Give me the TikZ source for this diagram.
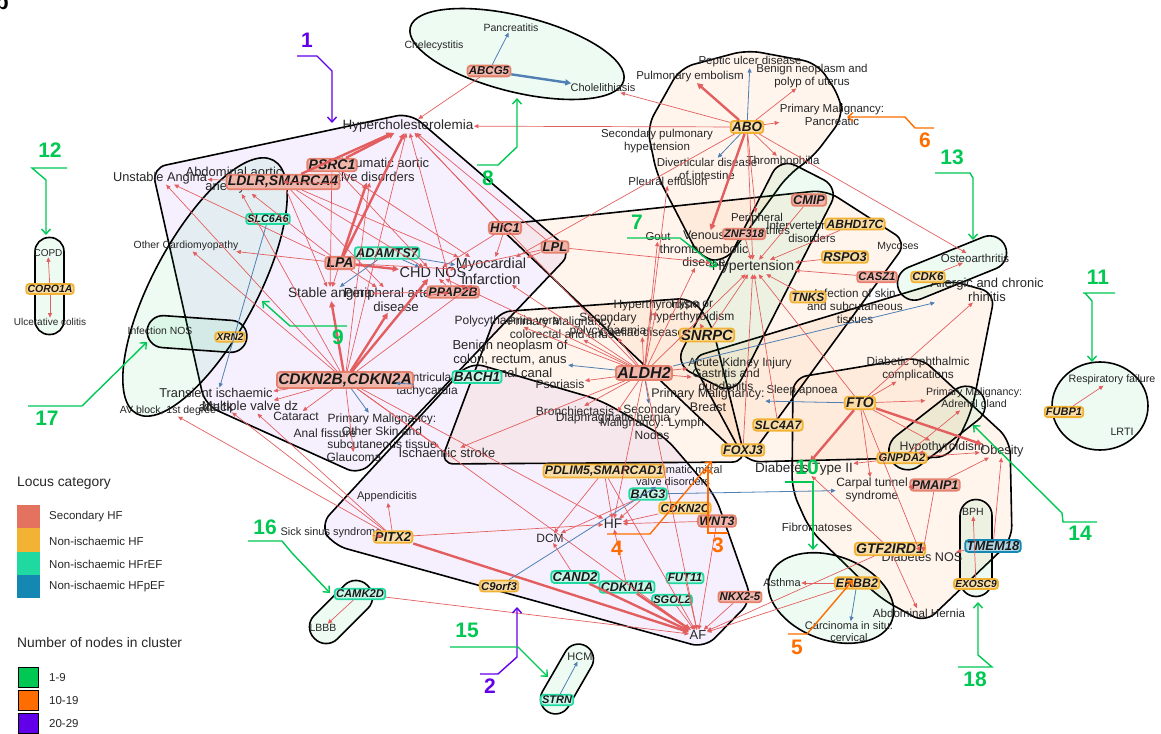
\documentclass[tikz,border=0pt]{standalone}
\usepackage{fontspec}
\setmainfont{Liberation Sans}
\usetikzlibrary{arrows.meta,shapes.geometric}
\definecolor{cg}{HTML}{00C853}
\definecolor{co}{HTML}{FF6D00}
\definecolor{cp}{HTML}{6200EA}
\definecolor{sec}{HTML}{E3735E}
\definecolor{nih}{HTML}{F2B233}
\definecolor{hfr}{HTML}{20D9A0}
\definecolor{hfp}{HTML}{1587B3}
\definecolor{ered}{HTML}{E35F5F}
\definecolor{eblue}{HTML}{4F7FB3}
\newcommand\dfont[1]{\fontsize{#1}{#1}\selectfont\setlength{\baselineskip}{1.1em}}
\newcommand\gfont[1]{\fontsize{#1}{#1}\selectfont\bfseries\itshape}
\tikzset{
 dis/.style={font=\dfont{#1}, inner sep=0.5pt, align=center, text=black!85},
 gbox/.style={draw, line width=1.8pt, rounded corners=3pt, inner sep=1.3pt, font=\gfont{#1}, text=black!90},
 gS/.style={gbox=#1, draw=sec!90, fill=sec!52},
 gN/.style={gbox=#1, draw=nih, fill=nih!45},
 gR/.style={gbox=#1, draw=hfr, fill=hfr!25},
 gP/.style={gbox=#1, draw=hfp, fill=hfp!35},
 re/.style={draw=ered, line width=0.7pt, -{Triangle[length=4.5pt,width=4pt]}},
 reT/.style={draw=ered, line width=2.4pt, -{Triangle[length=6pt,width=6pt]}},
 be/.style={draw=eblue, line width=0.8pt, -{Triangle[length=4.5pt,width=4pt]}},
 beT/.style={draw=eblue, line width=2.4pt, -{Triangle[length=6pt,width=6pt]}},
 clu/.style={draw=black, line width=1.6pt, rounded corners=14pt},
 fP/.style={fill=cp, fill opacity=0.06},
 fO/.style={fill=co, fill opacity=0.07},
 fG/.style={fill=cg, fill opacity=0.07},
 num/.style={font=\fontsize{21}{21}\selectfont\bfseries, inner sep=0pt},
 lab/.style={line width=1.4pt, -{Straight Barb[length=5pt,width=9pt]}},
 lgt/.style={anchor=west, font=\fontsize{#1}{#1}\selectfont, text=black!85, inner sep=0pt},
}
\begin{document}
\begin{tikzpicture}[x=1pt,y=-1pt]
\useasboundingbox (0,0) rectangle (1161,733);
\node[font=\fontsize{22}{22}\selectfont\bfseries, anchor=base east, inner sep=0pt] (panel) at (9,10) {b};

% ---------------- clusters ----------------
\path[clu, draw=none, fP] (152,168) -- (410,113) -- (572,252) -- (360,475) -- (205,405) -- cycle;
\path[clu, draw=none, fP] (320,525) -- (470,362) -- (600,400) -- (665,437) -- (715,495) -- (752,600) -- (705,648) -- (333,545) -- cycle;
\path[clu, draw=none, fO] (680,68) -- (747,50) -- (817,63) -- (840,97) -- (843,117) -- (813,157) -- (788,175) -- (725,262) -- (700,258) -- (657,175) -- (647,127) -- cycle;
\path[clu, draw=none, fO] (497,225) -- (826,190) -- (907,242) -- (746,462) -- cycle;
\path[clu, draw=none, fO] (440,464) -- (497,312) -- (692,298) -- (712,325) -- (746,462) -- cycle;
\path[clu, draw=none, fO] (690,358) -- (948,280) -- (995,293) -- (972,410) -- (950,457) -- (746,462) -- cycle;
\path[clu, draw=none, fO] (793,378) -- (920,357) -- (1010,440) -- (1012,540) -- (925,623) -- (880,598) -- (810,530) -- (792,490) -- cycle;
\draw[clu] (152,168) -- (410,113) -- (572,252) -- (360,475) -- (205,405) -- cycle;
\draw[clu] (320,525) -- (470,362) -- (600,400) -- (665,437) -- (715,495) -- (752,600) -- (705,648) -- (333,545) -- cycle;
\draw[clu] (680,68) -- (747,50) -- (817,63) -- (840,97) -- (843,117) -- (813,157) -- (788,175) -- (725,262) -- (700,258) -- (657,175) -- (647,127) -- cycle;
\draw[clu] (497,225) -- (826,190) -- (907,242) -- (746,462) -- cycle;
\draw[clu] (440,464) -- (497,312) -- (692,298) -- (712,325) -- (746,462) -- cycle;
\draw[clu] (690,358) -- (948,280) -- (995,293) -- (972,410) -- (950,457) -- (746,462) -- cycle;
\draw[clu] (793,378) -- (920,357) -- (1010,440) -- (1012,540) -- (925,623) -- (880,598) -- (810,530) -- (792,490) -- cycle;
% green clusters
\node[clu, fG, ellipse, minimum width=220pt, minimum height=76pt, rotate=-14, rounded corners=0pt] (c8) at (517,54) {};
\node[clu, fG, ellipse, minimum width=288pt, minimum height=104pt, rotate=61.7, rounded corners=0pt] (c9) at (205,287) {};
\node[clu, fG, rounded corners=16pt, minimum width=100pt, minimum height=32pt, rotate=-4] (c17) at (197,334) {};
\node[clu, fG, rounded corners=17pt, minimum width=232pt, minimum height=66pt, rotate=63] (c7) at (757,276) {};
\node[clu, fG, rounded corners=14pt, minimum width=29pt, minimum height=97pt] (c12) at (49.5,286) {};
\node[clu, fG, rounded corners=17pt, minimum width=115pt, minimum height=34pt, rotate=22] (c13) at (952,268) {};
\node[clu, fG, ellipse, minimum width=96pt, minimum height=88pt, rounded corners=0pt] (c11) at (1100,406) {};
\node[clu, fG, rounded corners=19pt, minimum width=112pt, minimum height=38pt, rotate=38] (c14) at (937,428) {};
\node[clu, fG, ellipse, minimum width=130pt, minimum height=84pt, rotate=-20, rounded corners=0pt] (c10) at (831,598) {};
\node[clu, fG, rounded corners=16pt, minimum width=32pt, minimum height=97pt] (c18) at (976,548) {};
\node[clu, fG, rounded corners=16pt, minimum width=75pt, minimum height=33pt, rotate=45] (c16) at (341,612) {};
\node[clu, fG, rounded corners=15pt, minimum width=76pt, minimum height=30pt, rotate=60] (c15) at (567,679) {};

% ---------------- disease nodes ----------------
\node[dis=13.5] (dHC) at (408,126) {Hypercholesterolemia};
\node[dis=10.5] (dPanc) at (511,28) {Pancreatitis};
\node[dis=10.5] (dChec) at (434,46) {Chelecystitis};
\node[dis=11] (dChol) at (603,88) {Cholelithiasis};
\node[dis=11.5] (dPE) at (690,77) {Pulmonary embolism};
\node[dis=11.5] (dPUD) at (750,62) {Peptic ulcer disease};
\node[dis=11.5] (dBNU) at (812,76) {Benign neoplasm and\\polyp of uterus};
\node[dis=11.5] (dPMP) at (832,115) {Primary Malignancy:\\Pancreatic};
\node[dis=11.5] (dSPH) at (657,141) {Secondary pulmonary\\hypertension};
\node[dis=11.5] (dDiv) at (707,169) {Diverticular disease\\of intestine};
\node[dis=11.5] (dThr) at (783,162) {Thrombophilia};
\node[dis=11.5] (dPleu) at (668,181) {Pleural effusion};
\node[dis=11.5] (dGout) at (658,237) {Gout};
\node[dis=12.5] (dVTE) at (704,249) {Venous\\thromboembolic\\disease};
\node[dis=14] (dHT) at (753,267) {Hypertension};
\node[dis=11.4] (dPer) at (757,225) {Peripheral\\neuropathies};
\node[dis=11.5] (dIVD) at (812,232) {Intervertebral disc\\disorders};
\node[dis=10.5] (dMyc) at (898,247) {Mycoses};
\node[dis=11.5] (dOst) at (975,258) {Osteoarthritis};
\node[dis=13] (dAR) at (987,290) {Allergic and chronic\\rhinitis};
\node[dis=11.7] (dISk) at (855,306) {Infection of skin\\and subcutaneous\\tissues};
\node[dis=12] (dHyper) at (657,305) {Hyperthyroidism};
\node[dis=12] (dHypo) at (692,311) {Hypo or\\hyperthyroidism};
\node[dis=12] (dSecP) at (608,325) {Secondary\\polycythaemia};
\node[dis=12] (dCoel) at (642,332) {Coeliac disease};
\node[dis=12] (dPV) at (507,321) {Polycythaemia vera};
\node[dis=12] (dPMC) at (562,328) {Primary Malignancy:\\colorectal and anus};
\node[dis=13] (dBNC) at (510,359) {Benign neoplasm of\\colon, rectum, anus\\and anal canal};
\node[dis=12] (dAKI) at (740,363) {Acute Kidney Injury};
\node[dis=12] (dGas) at (726,380) {Gastritis and\\duodenitis};
\node[dis=12.5] (dPMB) at (708,400) {Primary Malignancy:\\Breast};
\node[dis=11.5] (dSA) at (802,391) {Sleep apnoea};
\node[dis=12] (dPsor) at (560,384) {Psoriasis};
\node[dis=12] (dBron) at (575,411) {Bronchiectasis};
\node[dis=12] (dDH) at (613,418) {Diaphragmatic hernia};
\node[dis=12] (dSML) at (652,422) {Secondary\\Malignancy: Lymph\\Nodes};
\node[dis=12.9] (dIS) at (447,453) {Ischaemic stroke};
\node[dis=12] (dVT) at (427,385) {Ventricular\\tachycardia};
\node[dis=11] (dNMV) at (673,476) {Nonrheumatic mitral\\valve disorders};
\node[dis=13.5] (dDT2) at (804,469) {Diabetes Type II};
\node[dis=12] (dCTS) at (872,490) {Carpal tunnel\\syndrome};
\node[dis=11.8] (dDO) at (918,369) {Diabetic ophthalmic\\complications};
\node[dis=10.6] (dPMA) at (974,399) {Primary Malignancy:\\Adrenal gland};
\node[dis=12.3] (dHypoT) at (942,447) {Hypothyroidism};
\node[dis=12.7] (dOb) at (1002,451) {Obesity};
\node[dis=10.7] (dRF) at (1112,380) {Respiratory failure};
\node[dis=10.7] (dLRTI) at (1122,432) {LRTI};
\node[dis=11.6] (dFib) at (817,527) {Fibromatoses};
\node[dis=11] (dAst) at (782,583) {Asthma};
\node[dis=11] (dCIS) at (849,632) {Carcinoma in situ:\\cervical};
\node[dis=11.6] (dAH) at (919,613) {Abdominal Hernia};
\node[dis=12.6] (dDNOS) at (922,557) {Diabetes NOS};
\node[dis=10.5] (dBPH) at (973,512) {BPH};
\node[dis=13.8] (dHF) at (613,524) {HF};
\node[dis=13] (dAF) at (698,635) {AF};
\node[dis=12] (dDCM) at (550,538) {DCM};
\node[dis=11.1] (dApp) at (387,497) {Appendicitis};
\node[dis=11] (dSSS) at (331,533) {Sick sinus syndrome};
\node[dis=10.5] (dBBB) at (323,628) {LBBB};
\node[dis=11] (dHCM) at (580,657) {HCM};
\node[dis=13] (dMVD) at (250,407) {Multiple valve dz};
\node[dis=12.8] (dTIA) at (216,400) {Transient ischaemic\\attack};
\node[dis=10.5] (dAVB) at (168,411) {AV block, 1st degree};
\node[dis=12] (dCat) at (296,416) {Cataract};
\node[dis=12] (dAnal) at (325,433) {Anal fissure};
\node[dis=12] (dGla) at (354,457) {Glaucoma};
\node[dis=12] (dPMS) at (382,431) {Primary Malignancy:\\Other Skin and\\subcutaneous tissue};
\node[dis=13.7] (dStA) at (330,294) {Stable angina};
\node[dis=14.5] (dCHD) at (433,273) {CHD NOS};
\node[dis=14.5] (dMI) at (491,271) {Myocardial\\infarction};
\node[dis=13.2] (dPAD) at (396,300) {Peripheral arterial\\disease};
\node[dis=12.8] (dUA) at (160,178) {Unstable Angina};
\node[dis=13] (dAAA) at (234,180) {Abdominal aortic\\aneurysm};
\node[dis=13] (dNAV) at (371,170) {Nonrheumatic aortic\\valve disorders};
\node[dis=10.4] (dOC) at (186,246) {Other Cardiomyopathy};
\node[dis=10.4] (dINOS) at (160,331) {Infection NOS};
\node[dis=10] (dCOPD) at (48,253) {COPD};
\node[dis=10] (dUC) at (50,322) {Ulcerative colitis};

% ---------------- gene nodes ----------------
\node[gS=11.5] (gABCG5) at (489,71) {ABCG5};
\node[gN=13.5] (gABO) at (747,127) {ABO};
\node[gS=14] (gLDLR) at (283,182) {LDLR,SMARCA4};
\node[gS=14] (gPSRC1) at (332,165) {PSRC1};
\node[gR=10.7] (gSLC6A6) at (268,219) {SLC6A6};
\node[gS=14] (gLPA) at (340,263) {LPA};
\node[gR=12.8] (gADAMTS7) at (387,253) {ADAMTS7};
\node[gS=12.5] (gPPAP2B) at (453,292) {PPAP2B};
\node[gS=13] (gHIC1) at (505,228) {HIC1};
\node[gS=13] (gLPL) at (555,247) {LPL};
\node[gS=11] (gZNF) at (744,234) {ZNF318};
\node[gS=15.5] (gCDKN2B) at (345,380) {CDKN2B,CDKN2A};
\node[gR=13.5] (gBACH1) at (477,377) {BACH1};
\node[gN=10] (gXRN2) at (230,337) {XRN2};
\node[gN=10.5] (gCORO1A) at (50,289) {CORO1A};
\node[gN=12.3] (gPDLIM5) at (604,471) {PDLIM5,SMARCAD1};
\node[gR=12.5] (gBAG3) at (648,494) {BAG3};
\node[gN=11.7] (gCDKN2C) at (685,508) {CDKN2C};
\node[gS=12.4] (gWNT3) at (717,521) {WNT3};
\node[gN=13] (gPITX2) at (393,537) {PITX2};
\node[gN=11.3] (gC9orf3) at (499,586) {C9orf3};
\node[gR=11.2] (gCAMK2D) at (360,594) {CAMK2D};
\node[gR=13] (gCAND2) at (575,577) {CAND2};
\node[gR=12.6] (gCDKN1A) at (627,587) {CDKN1A};
\node[gR=11] (gSGOL2) at (672,600) {SGOL2};
\node[gR=11.5] (gFUT11) at (685,578) {FUT11};
\node[gS=11.4] (gNKX) at (740,597) {NKX2-5};
\node[gR=11] (gSTRN) at (557,700) {STRN};
\node[gN=12.4] (gERBB2) at (857,583) {ERBB2};
\node[gN=14] (gGTF) at (890,549) {GTF2IRD1};
\node[gP=13] (gTMEM18) at (993,546) {TMEM18};
\node[gN=10.2] (gEXOSC9) at (976,584) {EXOSC9};
\node[gS=12.6] (gPMAIP1) at (935,485) {PMAIP1};
\node[gN=11] (gFUBP1) at (1064,412) {FUBP1};
\node[gN=11.4] (gCDK6) at (928,277) {CDK6};
\node[gS=11.3] (gCASZ1) at (877,277) {CASZ1};
\node[gN=12] (gTNKS) at (808,297) {TNKS};
\node[gN=12.8] (gRSPO3) at (845,257) {RSPO3};
\node[gN=12] (gABHD) at (855,224) {ABHD17C};
\node[gS=12.7] (gCMIP) at (809,200) {CMIP};
\node[gS=16] (gALDH2) at (644,373) {ALDH2};
\node[gN=14.8] (gSNRPC) at (707,335) {SNRPC};
\node[gN=12.2] (gSLC4A7) at (778,425) {SLC4A7};
\node[gN=12.6] (gFOXJ3) at (743,450) {FOXJ3};
\node[gN=14] (gFTO) at (860,403) {FTO};
\node[gN=11.2] (gGNPDA2) at (902,458) {GNPDA2};

% ---------------- edges ----------------
\draw[be] (gABCG5) -- (dPanc);
\draw[beT] (gABCG5) -- (dChol);
\draw[re] (gABCG5) -- (dHC);
\draw[reT] (gABO) -- (dPE);
\draw[be] (gABO) -- (dPUD);
\draw[re] (gABO) -- (dBNU);
\draw[re] (gABO) -- (dPMP);
\draw[re] (gABO) -- (dChol);
\draw[re] (gABO) -- (dHC);
\draw[be] (gABO) -- (dDiv);
\draw[re] (gABO) -- (dThr);
\draw[reT] (gABO) -- (dVTE);
\draw[re] (gABO) -- (dOst);
\draw[re] (gABO) -- (dMI);
\draw[re] (gABO) -- (dPer);
\draw[re] (gABO) -- (dHT);
\draw[re] (gZNF) -- (dHT);
\draw[reT] (gLDLR) -- (dHC);
\draw[re] (gLDLR) -- (dAAA);
\draw[re] (gLDLR) -- (dUA);
\draw[re] (gLDLR) -- (dStA);
\draw[re] (gLDLR) -- (dCHD);
\draw[re] (gLDLR) -- (dMI);
\draw[re] (gLDLR) -- (dPAD);
\draw[reT] (gPSRC1) -- (dHC);
\draw[re] (gPSRC1) -- (dMI);
\draw[re] (gPSRC1) -- (dCHD);
\draw[re] (gPSRC1) -- (dStA);
\draw[reT] (gLPA) -- (dHC);
\draw[reT] (gLPA) -- (dNAV);
\draw[reT] (gLPA) -- (dCHD);
\draw[re] (gLPA) -- (dMI);
\draw[re] (gLPA) -- (dStA);
\draw[re] (gLPA) -- (dPAD);
\draw[re] (gLPA) -- (dUA);
\draw[re] (gLPA) -- (dAAA);
\draw[re] (gLPA) -- (dOC);
\draw[be] (gADAMTS7) -- (dCHD);
\draw[be] (gADAMTS7) -- (dStA);
\draw[be] (gADAMTS7) -- (dMI);
\draw[reT] (gCDKN2B) -- (dStA);
\draw[reT] (gCDKN2B) -- (dCHD);
\draw[re] (gCDKN2B) -- (dMI);
\draw[reT] (gCDKN2B) -- (dPAD);
\draw[re] (gCDKN2B) -- (dHC);
\draw[re] (gCDKN2B) -- (dAAA);
\draw[re] (gCDKN2B) -- (dUA);
\draw[re] (gCDKN2B) -- (dNAV);
\draw[re] (gCDKN2B) -- (dMVD);
\draw[re] (gCDKN2B) -- (dCat);
\draw[re] (gCDKN2B) -- (dGla);
\draw[be] (gCDKN2B) -- (dPMS);
\draw[be] (gCDKN2B) -- (dVT);
\draw[re] (gCDKN2B) -- (dIS);
\draw[re] (gCDKN2B) -- (dTIA);
\draw[re] (gCDKN2B) -- (dOC);
\draw[re] (gCDKN2B) -- (dHF);
\draw[re] (gCDKN2B) -- (dAF);
\draw[re] (gPPAP2B) -- (dCHD);
\draw[re] (gPPAP2B) -- (dMI);
\draw[re] (gPPAP2B) -- (dPAD);
\draw[re] (gPPAP2B) -- (dStA);
\draw[re] (gPPAP2B) -- (dHC);
\draw[re] (gHIC1) -- (dMI);
\draw[re] (gHIC1) -- (dHC);
\draw[re] (gHIC1) -- (dCHD);
\draw[re] (gLPL) -- (dHC);
\draw[re] (gLPL) -- (dMI);
\draw[re] (gLPL) -- (dHT);
\draw[re] (gLPL) -- (dCHD);
\draw[be] (gSLC6A6) -- (dTIA);
\draw[re] (gCORO1A) -- (dCOPD);
\draw[re] (gCORO1A) -- (dUC);
\draw[re] (gALDH2) -- (dHT);
\draw[re] (gALDH2) -- (dMI);
\draw[re] (gALDH2) -- (dCHD);
\draw[re] (gALDH2) -- (dSecP);
\draw[re] (gALDH2) -- (dPV);
\draw[re] (gALDH2) -- (dPMC);
\draw[be] (gALDH2) -- (dBNC);
\draw[re] (gALDH2) -- (dPsor);
\draw[re] (gALDH2) -- (dBron);
\draw[re] (gALDH2) -- (dDH);
\draw[be] (gALDH2) -- (dSML);
\draw[re] (gALDH2) -- (dHyper);
\draw[re] (gALDH2) -- (dCoel);
\draw[re] (gALDH2) -- (dGas);
\draw[re] (gALDH2) -- (dAKI);
\draw[re] (gALDH2) -- (dIS);
\draw[re] (gALDH2) -- (dPleu);
\draw[re] (gALDH2) -- (dGout);
\draw[re] (gALDH2) -- (dVTE);
\draw[re] (gALDH2) -- (dHF);
\draw[re] (gALDH2) -- (dAF);
\draw[be] (gALDH2) -- (dAR);
\draw[re] (gALDH2) -- (dHC);
\draw[re] (gSNRPC) -- (dHT);
\draw[re] (gSNRPC) -- (dHypo);
\draw[re] (gCMIP) -- (dHT);
\draw[re] (gABHD) -- (dHT);
\draw[re] (gRSPO3) -- (dHT);
\draw[re] (gCASZ1) -- (dHT);
\draw[re] (gTNKS) -- (dHT);
\draw[re] (gCDK6) -- (dOst);
\draw[reT] (gFTO) -- (dOb);
\draw[reT] (gFTO) -- (dDT2);
\draw[re] (gFTO) -- (dHT);
\draw[re] (gFTO) -- (dDO);
\draw[re] (gFTO) -- (dHypoT);
\draw[be] (gFTO) -- (dPMB);
\draw[re] (gFTO) -- (dCTS);
\draw[re] (gFTO) -- (dPMA);
\draw[re] (gFTO) -- (dAR);
\draw[re] (gFTO) -- (dDNOS);
\draw[re] (gSLC4A7) -- (dHT);
\draw[re] (gFOXJ3) -- (dHT);
\draw[re] (gGNPDA2) -- (dOb);
\draw[re] (gGNPDA2) -- (dHypoT);
\draw[re] (gGNPDA2) -- (dPMA);
\draw[re] (gGNPDA2) -- (dDT2);
\draw[re] (gPMAIP1) -- (dOb);
\draw[re] (gPMAIP1) -- (dDNOS);
\draw[re] (gPMAIP1) -- (dCTS);
\draw[re] (gTMEM18) -- (dOb);
\draw[re] (gTMEM18) -- (dDNOS);
\draw[re] (gGTF) -- (dAH);
\draw[re] (gGTF) -- (dDT2);
\draw[re] (gGTF) -- (dAF);
\draw[re] (gERBB2) -- (dAst);
\draw[be] (gERBB2) -- (dCIS);
\draw[re] (gERBB2) -- (dAF);
\draw[re] (gEXOSC9) -- (dBPH);
\draw[re] (gFUBP1) -- (dRF);
\draw[reT] (gPITX2) -- (dAF);
\draw[re] (gPITX2) -- (dApp);
\draw[re] (gPITX2) -- (dSSS);
\draw[re] (gPITX2) -- (dHF);
\draw[re] (gPITX2) -- (dAVB);
\draw[re] (gPITX2) -- (dMVD);
\draw[re] (gPITX2) -- (dTIA);
\draw[be] (gC9orf3) -- (dNMV);
\draw[re] (gCAMK2D) -- (dBBB);
\draw[re] (gCAMK2D) -- (dAF);
\draw[be] (gSTRN) -- (dHCM);
\draw[re] (gBAG3) -- (dHF);
\draw[re] (gBAG3) -- (dDCM);
\draw[be] (gBAG3) -- (dCTS);
\draw[re] (gCDKN2C) -- (dHF);
\draw[re] (gWNT3) -- (dHF);
\draw[re] (gWNT3) -- (dAF);
\draw[reT] (gCAND2) -- (dAF);
\draw[re] (gCAND2) -- (dDCM);
\draw[reT] (gCDKN1A) -- (dAF);
\draw[re] (gCDKN1A) -- (dHF);
\draw[re] (gSGOL2) -- (dAF);
\draw[re] (gFUT11) -- (dAF);
\draw[re] (gNKX) -- (dAF);
\draw[re] (gPDLIM5) -- (dHF);
\draw[re] (gPDLIM5) -- (dAF);
\draw[re] (gPDLIM5) -- (dDCM);

% ---------------- cluster number labels ----------------
\node[num, text=cp] (n1) at (307,40) {1};
\coordinate (a1) at (297,56); \coordinate (b1) at (332,123);
\draw[lab, cp] (a1) -- (317,56) -- (332,71) -- (b1);
\node[num, text=cp] (n2) at (490,686) {2};
\coordinate (a2) at (480,674); \coordinate (b2) at (517,607);
\draw[lab, cp] (a2) -- (498,674) -- (517,657) -- (b2);
\node[num, text=co] (n3) at (718,545) {3};
\coordinate (a3) at (728,533); \coordinate (b3) at (708,468);
\draw[lab, co] (a3) -- (708,533) -- (b3);
\node[num, text=co] (n4) at (617,548) {4};
\coordinate (a4) at (607,534); \coordinate (b4) at (712,461);
\draw[lab, co] (a4) -- (650,534) -- (b4);
\node[num, text=co] (n5) at (797,647) {5};
\coordinate (a5) at (788,634); \coordinate (b5) at (853,580);
\draw[lab, co] (a5) -- (807,634) -- (b5);
\node[num, text=co] (n6) at (925,140) {6};
\coordinate (a6) at (934,128); \coordinate (b6) at (847,117);
\draw[lab, co] (a6) -- (915,128) -- (905,117) -- (b6);
\node[num, text=cg] (n7) at (637,222) {7};
\coordinate (a7) at (627,238); \coordinate (b7) at (717,267);
\draw[lab, cg] (a7) -- (680,238) -- (b7);
\node[num, text=cg] (n8) at (488,178) {8};
\coordinate (a8) at (477,165); \coordinate (b8) at (517,98);
\draw[lab, cg] (a8) -- (498,165) -- (517,147) -- (b8);
\node[num, text=cg] (n9) at (338,337) {9};
\coordinate (a9) at (347,326); \coordinate (b9) at (262,301);
\draw[lab, cg] (a9) -- (290,326) -- (b9);
\node[num, text=cg] (n10) at (807,467) {10};
\coordinate (a10) at (785,482); \coordinate (b10) at (813,550);
\draw[lab, cg] (a10) -- (813,482) -- (b10);
\node[num, text=cg] (n11) at (1098,277) {11};
\coordinate (a11) at (1115,293); \coordinate (b11) at (1092,362);
\draw[lab, cg] (a11) -- (1083,293) -- (1085,293) -- (1092,301) -- (b11);
\node[num, text=cg] (n12) at (50,150) {12};
\coordinate (a12) at (67,168); \coordinate (b12) at (46,235);
\draw[lab, cg] (a12) -- (32,168) -- (46,180) -- (b12);
\node[num, text=cg] (n13) at (952,157) {13};
\coordinate (a13) at (935,173); \coordinate (b13) at (973,240);
\draw[lab, cg] (a13) -- (970,173) -- (973,178) -- (b13);
\node[num, text=cg] (n14) at (1080,533) {14};
\coordinate (a14) at (1097,522); \coordinate (b14) at (973,425);
\draw[lab, cg] (a14) -- (1063,522) -- (1062,513) -- (b14);
\node[num, text=cg] (n15) at (467,630) {15};
\coordinate (a15) at (450,647); \coordinate (b15) at (548,677);
\draw[lab, cg] (a15) -- (518,647) -- (b15);
\node[num, text=cg] (n16) at (265,527) {16};
\coordinate (a16) at (248,541); \coordinate (b16) at (330,593);
\draw[lab, cg] (a16) -- (282,541) -- (292,553) -- (b16);
\node[num, text=cg] (n17) at (47,418) {17};
\coordinate (a17) at (28,406); \coordinate (b17) at (147,342);
\draw[lab, cg] (a17) -- (82,406) -- (b17);
\node[num, text=cg] (n18) at (975,679) {18};
\coordinate (a18) at (958,667); \coordinate (b18) at (978,602);
\draw[lab, cg] (a18) -- (992,667) -- (978,655) -- (b18);

% ---------------- legend ----------------
\node[lgt=13.8] (lg1) at (17,483) {Locus category};
\fill[sec] (17,505) rectangle (40,528);
\fill[nih] (17,528) rectangle (40,552);
\fill[hfr] (17,552) rectangle (40,575);
\fill[hfp] (17,575) rectangle (40,598);
\node[lgt=11.5] (lgS) at (49,517) {Secondary HF};
\node[lgt=11.5] (lgN) at (49,541) {Non-ischaemic HF};
\node[lgt=11.5] (lgR) at (49,564) {Non-ischaemic HFrEF};
\node[lgt=11.5] (lgP) at (49,587) {Non-ischaemic HFpEF};
\node[lgt=13.8] (lg2) at (17,643) {Number of nodes in cluster};
\draw[fill=cg, line width=1.3pt] (18.5,667.5) rectangle (38.5,687.5);
\draw[fill=co, line width=1.3pt] (18.5,690.5) rectangle (38.5,710.5);
\draw[fill=cp, line width=1.3pt] (18.5,713.5) rectangle (38.5,733.5);
\node[lgt=11.5] (lc1) at (49,678) {1-9};
\node[lgt=11.5] (lc2) at (49,701) {10-19};
\node[lgt=11.5] (lc3) at (49,724) {20-29};
\end{tikzpicture}
\end{document}
